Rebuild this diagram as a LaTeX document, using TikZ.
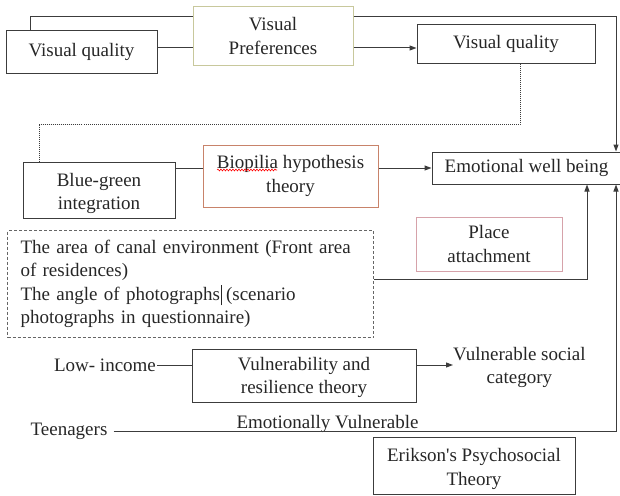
\documentclass[tikz,border=0pt]{standalone}
\usepackage{fontspec}
\setmainfont{Liberation Serif}
\usepackage{tikz}
\usetikzlibrary{arrows.meta,decorations.pathmorphing}
\definecolor{linegray}{HTML}{3C3C3C}
\definecolor{olivebox}{HTML}{C8C89C}
\definecolor{rustbox}{HTML}{C8836A}
\definecolor{pinkbox}{HTML}{D6A2AA}
\tikzstyle{every node}=[font=\fontsize{19}{23.5}\selectfont, text=black!85]
\tikzstyle{box}=[draw=linegray, line width=1pt, align=center, inner sep=2pt]
\tikzstyle{word}=[inner sep=0pt, align=center]
\tikzstyle{arr}=[draw=linegray, line width=1pt, -{Triangle[length=7pt,width=5pt]}]
\tikzstyle{link}=[draw=linegray, line width=1pt]

\begin{document}
\begin{tikzpicture}[x=1pt,y=-1pt]
		\useasboundingbox (0,0) rectangle (620,495);
		\node[box, minimum width=151pt, minimum height=43pt] (vqa) at (81.5,52) {Visual quality}; % left box
		\node[box, draw=olivebox, minimum width=160pt, minimum height=58pt] (vp) at (273,36) {Visual\\Preferences};
		\node[box, minimum width=178pt, minimum height=38pt] (vqb) at (506,44) {Visual quality}; % right box
		\node[box, minimum width=152pt, minimum height=56pt] (bg) at (99,190) {\rule{0pt}{20pt}Blue-green\\integration};
		\node[box, draw=rustbox, minimum width=175pt, minimum height=62pt] (bio) at (290.5,176) {Biopilia hypothesis\\theory};
		\node[box, minimum width=189pt, minimum height=32pt] (ewb) at (526.5,168) {Emotional well being};
		\node[box, draw=pinkbox, minimum width=146pt, minimum height=54pt] (pa) at (489,244) {Place\\attachment};
		\node[box, draw=black!60, densely dashed, align=left, anchor=north west, minimum width=366pt, minimum height=107pt, text width=340pt, inner xsep=13pt] (area) at (7,230)
			{The area of canal environment (Front area\\of residences)\\The angle of photographs\kern1pt\rule[-5pt]{0.6pt}{20pt}\kern4.5pt(scenario\\photographs in questionnaire)};
		\node[word] (low) at (105,365) {Low- income};
		\node[box, minimum width=224pt, minimum height=53pt] (vr) at (304,375.5) {\rule{0pt}{17pt}Vulnerability and\\resilience theory};
		\node[word, anchor=west] (vsc) at (453,367.5) {Vulnerable social\\category};
		\node[word] (teen) at (69,431) {Teenagers};
		\node[word] (emo) at (327.5,424) {Emotionally Vulnerable};
		\node[box, minimum width=202pt, minimum height=57pt] (erik) at (474,465.5) {\rule{0pt}{20pt}Erikson{\addfontfeatures{Ligatures=TeXOff}'}s Psychosocial\\Theory};
		% bend points
		\coordinate (tl) at (30,17);
		\coordinate (tr) at (616,17);
		\coordinate (ml) at (175,48);
		\coordinate (d1) at (520,124);
		\coordinate (d2) at (39,124);
		\coordinate (pa1) at (587,279);
		\coordinate (br) at (616,431);
		% connectors
		\draw[link] (tl |- vqa.north) -- (tl) -- (tl -| vp.west);
		\draw[link] (vqa.east |- ml) -- (vp.west |- ml);
		\draw[arr] (vp.east |- tr) -- (tr) -- (tr |- ewb.north);
		\draw[arr] (vp.east |- ml) -- (vqb.west |- ml);
		\draw[draw=linegray, line width=1pt, densely dotted] (d1 |- vqb.south) -- (d1) -- (d2) -- (d2 |- bg.north); % dotted link
		\draw[link] (bg.east |- ewb.west) -- (bio.west |- ewb.west);
		\draw[arr] (bio.east |- ewb.west) -- (ewb.west);
		\draw[arr] (area.east |- pa1) -- (pa1) -- (pa1 |- ewb.south);
		\draw[link] ([xshift=1pt]low.east) -- (vr.west |- low.east);
		\draw[arr] (vr.east |- low.east) -- (vsc.west |- low.east);
		\draw[arr] ([xshift=6pt]teen.east |- br) -- (br) -- (br |- ewb.south);
		\draw[red, line width=0.6pt, decorate, decoration={snake, amplitude=0.9pt, segment length=3pt}] (217,170) -- (277,170); % spell mark
\end{tikzpicture}
\end{document}
